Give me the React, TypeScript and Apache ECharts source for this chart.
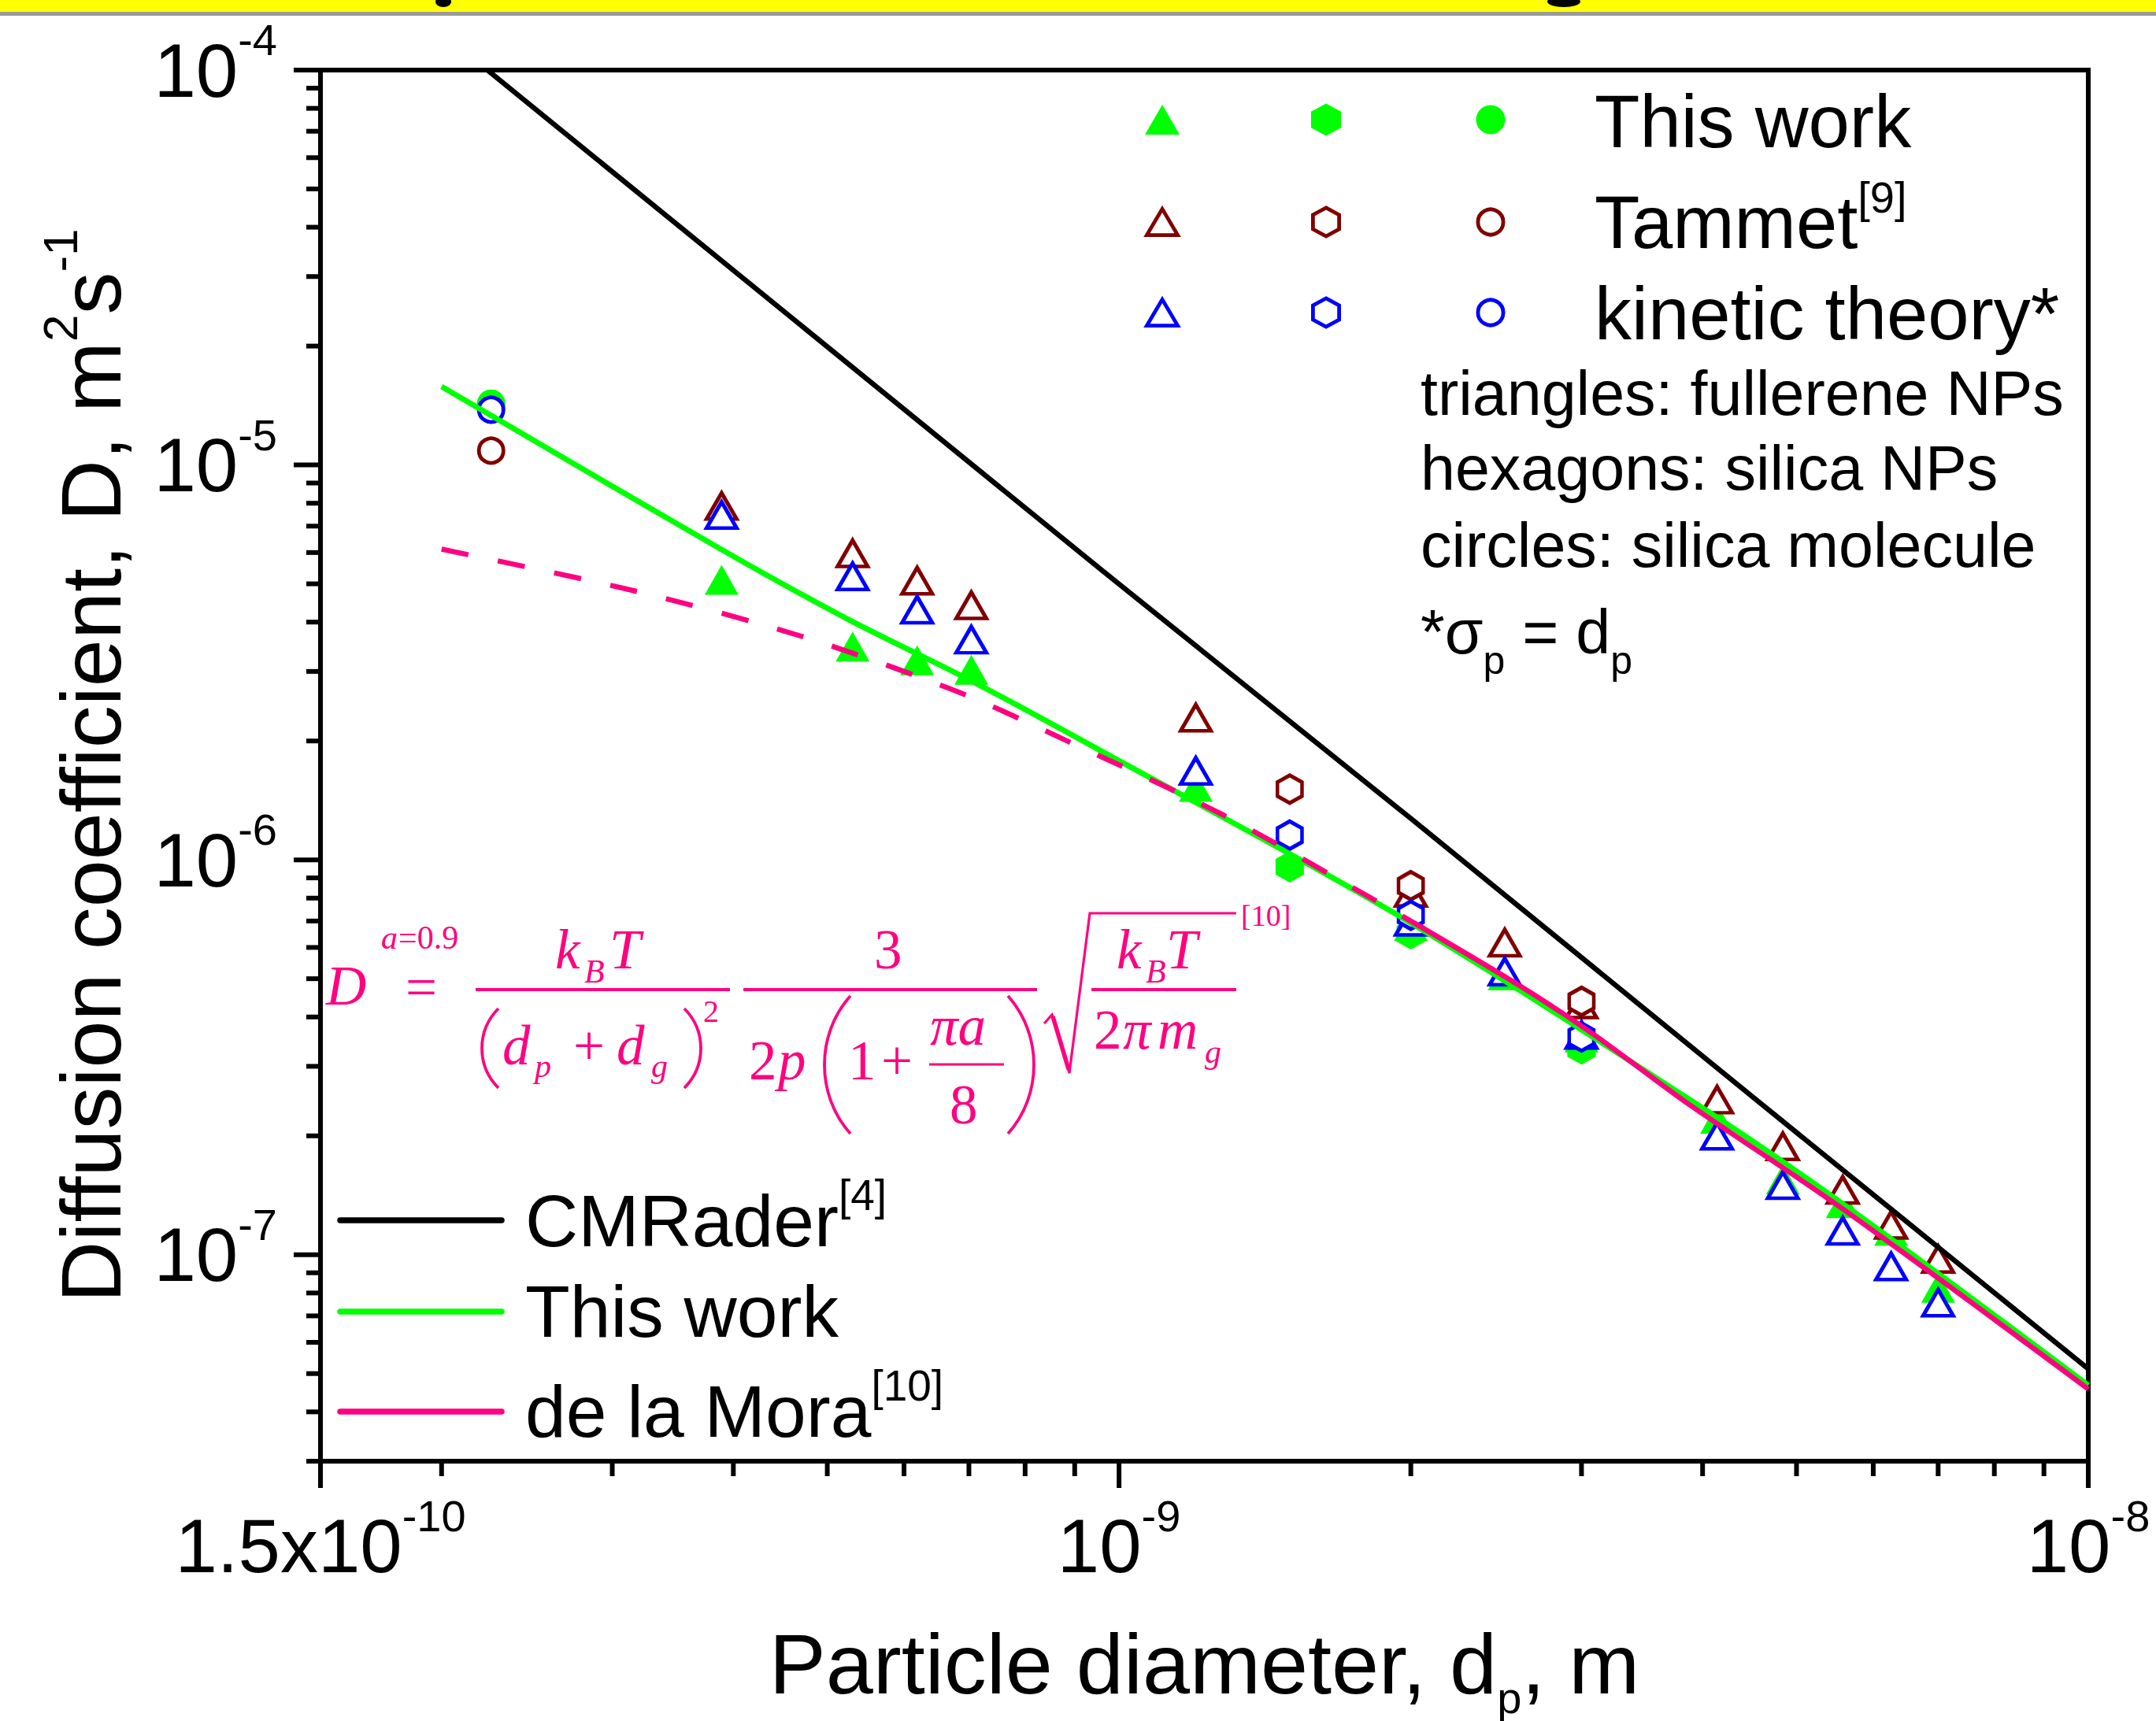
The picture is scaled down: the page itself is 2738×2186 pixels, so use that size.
import React, { useEffect, useRef } from 'react';
import * as echarts from 'echarts';

const W = 2738;
const H = 2186;

/* ---------------- data ---------------- */
// particle diameter d_p [m], diffusion coefficient D [m^2 s^-1]
const thisWorkFullerene: [number, number][] = [
  [3.89e-10, 5.12e-6], [5.31e-10, 3.47e-6], [6.19e-10, 3.2e-6], [7.04e-10, 3.03e-6],
  [1.2e-9, 1.53e-6], [2.0e-9, 6.8e-7], [2.5e-9, 5.1e-7], [3.0e-9, 3.55e-7],
  [4.14e-9, 2.21e-7], [4.84e-9, 1.55e-7], [5.58e-9, 1.35e-7], [6.26e-9, 1.15e-7], [7.0e-9, 8.25e-8],
];
const thisWorkSilicaNP: [number, number][] = [[1.5e-9, 9.6e-7], [2.0e-9, 6.5e-7], [3.0e-9, 3.32e-7]];
const thisWorkSilicaMolecule: [number, number][] = [[2.25e-10, 1.43e-5]];

const tammetFullerene: [number, number][] = [
  [3.89e-10, 7.87e-6], [5.31e-10, 5.97e-6], [6.19e-10, 5.09e-6], [7.04e-10, 4.41e-6],
  [1.2e-9, 2.29e-6], [2.0e-9, 8.25e-7], [2.5e-9, 6.17e-7], [3.0e-9, 4.3e-7],
  [4.14e-9, 2.47e-7], [4.84e-9, 1.88e-7], [5.58e-9, 1.46e-7], [6.26e-9, 1.19e-7], [7.0e-9, 9.75e-8],
];
const tammetSilicaNP: [number, number][] = [[1.5e-9, 1.51e-6], [2.0e-9, 8.6e-7], [3.0e-9, 4.38e-7]];
const tammetSilicaMolecule: [number, number][] = [[2.25e-10, 1.087e-5]];

const kineticFullerene: [number, number][] = [
  [3.89e-10, 7.47e-6], [5.31e-10, 5.22e-6], [6.19e-10, 4.3e-6], [7.04e-10, 3.61e-6],
  [1.2e-9, 1.68e-6], [2.0e-9, 6.97e-7], [2.5e-9, 5.21e-7], [3.0e-9, 3.6e-7],
  [4.14e-9, 2.0e-7], [4.84e-9, 1.5e-7], [5.58e-9, 1.15e-7], [6.26e-9, 9.34e-8], [7.0e-9, 7.56e-8],
];
const kineticSilicaNP: [number, number][] = [[1.5e-9, 1.155e-6], [2.0e-9, 7.24e-7], [3.0e-9, 3.56e-7]];
const kineticSilicaMolecule: [number, number][] = [[2.25e-10, 1.38e-5]];

const cmraderCurve: [number, number][] = [
  [2.23e-10, 1.0e-4], [9.61e-10, 5.4e-6], [2.01e-9, 1.26e-6], [4.56e-9, 2.45e-7], [1.0e-8, 5.14e-8],
];
const thisWorkCurve: [number, number][] = [
  [2.0e-10, 1.58e-5], [3.87e-10, 6.15e-6], [5.22e-10, 4.1e-6], [7.04e-10, 2.84e-6],
  [9.61e-10, 1.88e-6], [1.94e-9, 7.24e-7], [3.9e-9, 2.45e-7], [5.57e-9, 1.35e-7], [1.0e-8, 4.67e-8],
];
const delaMoraExtrapolated: [number, number][] = [
  [2.0e-10, 6.12e-6], [3.15e-10, 4.81e-6], [4.69e-10, 3.69e-6], [6.83e-10, 2.66e-6],
  [8.84e-10, 2.0e-6], [1.28e-9, 1.3e-6], [1.83e-9, 7.94e-7], [2.0e-9, 7.0e-7],
];
const delaMoraCurve: [number, number][] = [
  [2.0e-9, 7.0e-7], [2.59e-9, 4.8e-7], [3.09e-9, 3.61e-7], [3.83e-9, 2.45e-7],
  [5.57e-9, 1.31e-7], [1.0e-8, 4.57e-8],
];

/* ---------------- axes ---------------- */
const X_MIN = 1.5e-10;
const X_MAX = 1e-8;
const Y_MIN = 3e-8;
const Y_MAX = 1e-4;
// plotting units (avoid ECharts' 10-decimal rounding of tiny log-axis tick values)
const X_SCALE = 1e10;
const Y_SCALE = 1e8;

const xMajorTicks = [1.5e-10, 1e-9, 1e-8];
const xMinorTicks = [
  2e-10, 3e-10, 4e-10, 5e-10, 6e-10, 7e-10, 8e-10, 9e-10,
  2e-9, 3e-9, 4e-9, 5e-9, 6e-9, 7e-9, 8e-9, 9e-9,
];
const yMajorTicks = [1e-4, 1e-5, 1e-6, 1e-7];
const yMinorTicks = [
  9e-5, 8e-5, 7e-5, 6e-5, 5e-5, 4e-5, 3e-5, 2e-5,
  9e-6, 8e-6, 7e-6, 6e-6, 5e-6, 4e-6, 3e-6, 2e-6,
  9e-7, 8e-7, 7e-7, 6e-7, 5e-7, 4e-7, 3e-7, 2e-7,
  9e-8, 8e-8, 7e-8, 6e-8, 5e-8, 4e-8, 3e-8,
];

/* ---------------- styling ---------------- */
const SANS = "'Liberation Sans', Arial, Helvetica, sans-serif";
const SERIF = "'Liberation Serif', 'Times New Roman', Times, serif";
const C_SANS = 0.3465;
const C_SERIF = 0.3375;
const GREEN = '#00FF00';
const DARKRED = '#800000';
const BLUE = '#0000FF';
const PINK = '#FF0080';
const BLACK = '#000000';
const HEX_PATH = 'path://M0,-10L8.66,-5L8.66,5L0,10L-8.66,5L-8.66,-5Z';
const BW = 4.8;
const AXW = 6;

let measureCtx: CanvasRenderingContext2D | null = null;
function measure(text: string, font: string): number {
  if (!measureCtx) measureCtx = document.createElement('canvas').getContext('2d');
  if (!measureCtx) return text.length * 20;
  measureCtx.font = font;
  return measureCtx.measureText(text).width;
}

function txt(t: string, x: number, baseline: number, size: number, fill: string, family: string, italic?: boolean): any {
  const c = family === SERIF ? C_SERIF : C_SANS;
  const font = `${italic ? 'italic ' : ''}${size}px ${family}`;
  return {
    type: 'text', silent: true, z: 6, x, y: baseline - c * size,
    style: {
      text: t, font, fill,
      align: 'left', verticalAlign: 'middle', textAlign: 'left', textVerticalAlign: 'middle',
    },
  };
}

type Piece = { t: string; size: number; dy?: number; italic?: boolean };
function run(x0: number, baseline: number, pieces: Piece[], fill: string, family: string): any[] {
  const out: any[] = [];
  let x = x0;
  for (const p of pieces) {
    const font = `${p.italic ? 'italic ' : ''}${p.size}px ${family}`;
    out.push(txt(p.t, x, baseline + (p.dy || 0), p.size, fill, family, p.italic));
    x += measure(p.t, font);
  }
  return out;
}

function fmtTick(real: number, allowMantissa: boolean): string {
  const lg = Math.log10(real);
  const n = Math.round(lg);
  if (Math.abs(lg - n) < 1e-6) return `{b|10}{s|${n}}`;
  if (!allowMantissa) return '';
  const e = Math.floor(lg + 1e-9);
  const m = Math.round((real / Math.pow(10, e)) * 100) / 100;
  return `{b|${m}x10}{s|${e}}`;
}

const scaleData = (d: [number, number][]) => d.map(([x, y]) => [x * X_SCALE, y * Y_SCALE]);

function scatterSeries(name: string, data: [number, number][], symbol: string, outer: [number, number], color: string, filled: boolean): any {
  return {
    type: 'scatter', name, data: scaleData(data), symbol,
    symbolSize: filled ? outer : [outer[0] - BW, outer[1] - BW],
    itemStyle: filled
      ? { color, borderWidth: 0, opacity: 1 }
      : { color: '#ffffff', borderColor: color, borderWidth: BW, opacity: 1 },
    silent: true, z: 2, emphasis: { disabled: true },
  };
}

function lineSeries(name: string, data: [number, number][], color: string, width: number, type: any, smooth: number | boolean): any {
  return {
    type: 'line', name, data: scaleData(data), showSymbol: false, symbol: 'none',
    lineStyle: { color, width, type, cap: 'butt' }, smooth, silent: true, z: 3,
    emphasis: { disabled: true },
  };
}

function buildOption(): any {
  const labelRich = {
    b: { fontFamily: SANS, fontSize: 96, lineHeight: 133, color: '#000' },
    s: { fontFamily: SANS, fontSize: 56, lineHeight: 56, color: '#000', verticalAlign: 'top' },
  };
  const TRI: [number, number] = [43, 38];
  const HEX: [number, number] = [36, 40];
  const CIR: [number, number] = [36, 36];
  return {
    animation: false,
    backgroundColor: '#ffffff',
    textStyle: { fontFamily: SANS },
    grid: {
      left: 407, right: 86, top: 89, bottom: 330,
      show: true, borderColor: '#000', borderWidth: AXW, backgroundColor: 'transparent',
      containLabel: false, outerBoundsMode: 'none',
    },
    xAxis: {
      type: 'log', logBase: 10, min: X_MIN * X_SCALE, max: X_MAX * X_SCALE,
      axisLine: { show: true, onZero: false, lineStyle: { color: '#000', width: AXW } },
      axisTick: { show: false }, minorTick: { show: false },
      splitLine: { show: false }, minorSplitLine: { show: false },
      axisLabel: {
        show: true, margin: 41, color: '#000', rich: labelRich,
        showMinLabel: true, showMaxLabel: true, hideOverlap: false,
        formatter: (v: number) => fmtTick(v / X_SCALE, true),
      },
      name: '{n|Particle diameter, d}{u|p}{n|, m}',
      nameLocation: 'middle', nameGap: 187, nameMoveOverlap: false,
      nameTextStyle: {
        color: '#000',
        rich: {
          n: { fontFamily: SANS, fontSize: 108, lineHeight: 141, color: '#000' },
          u: { fontFamily: SANS, fontSize: 56, lineHeight: 65, color: '#000', verticalAlign: 'bottom' },
        },
      },
    },
    yAxis: {
      type: 'log', logBase: 10, min: Y_MIN * Y_SCALE, max: Y_MAX * Y_SCALE,
      axisLine: { show: true, onZero: false, lineStyle: { color: '#000', width: AXW } },
      axisTick: { show: false }, minorTick: { show: false },
      splitLine: { show: false }, minorSplitLine: { show: false },
      axisLabel: {
        show: true, margin: 55, color: '#000', rich: labelRich,
        showMinLabel: true, showMaxLabel: true, hideOverlap: false,
        formatter: (v: number) => fmtTick(v / Y_SCALE, false),
      },
      name: '{n|Diffusion coefficient, D, m}{s|2}{n|s}{s|-1}',
      nameLocation: 'middle', nameGap: 221, nameRotate: 90, nameMoveOverlap: false,
      nameTextStyle: {
        color: '#000',
        rich: {
          n: { fontFamily: SANS, fontSize: 108, lineHeight: 141, color: '#000' },
          s: { fontFamily: SANS, fontSize: 62, lineHeight: 62, color: '#000', verticalAlign: 'top' },
        },
      },
    },
    series: [
      scatterSeries('This work – fullerene NPs', thisWorkFullerene, 'triangle', TRI, GREEN, true),
      scatterSeries('This work – silica NPs', thisWorkSilicaNP, HEX_PATH, HEX, GREEN, true),
      scatterSeries('This work – silica molecule', thisWorkSilicaMolecule, 'circle', CIR, GREEN, true),
      scatterSeries('Tammet – fullerene NPs', tammetFullerene, 'triangle', TRI, DARKRED, false),
      scatterSeries('Tammet – silica NPs', tammetSilicaNP, HEX_PATH, HEX, DARKRED, false),
      scatterSeries('Tammet – silica molecule', tammetSilicaMolecule, 'circle', CIR, DARKRED, false),
      scatterSeries('kinetic theory – fullerene NPs', kineticFullerene, 'triangle', TRI, BLUE, false),
      scatterSeries('kinetic theory – silica NPs', kineticSilicaNP, HEX_PATH, HEX, BLUE, false),
      scatterSeries('kinetic theory – silica molecule', kineticSilicaMolecule, 'circle', CIR, BLUE, false),
      lineSeries('CMRader', cmraderCurve, BLACK, 6.5, 'solid', false),
      lineSeries('This work (fit)', thisWorkCurve, GREEN, 7, 'solid', 0.3),
      lineSeries('de la Mora (extrapolated)', delaMoraExtrapolated, PINK, 6.5, [35, 38], 0.3),
      lineSeries('de la Mora', delaMoraCurve, PINK, 6.5, 'solid', 0.3),
    ],
  };
}

function triEl(cx: number, cy: number, w: number, h: number, color: string, filled: boolean): any {
  const iw = filled ? w : w - BW;
  const ih = filled ? h : h - BW;
  return {
    type: 'polygon', silent: true, z: 6,
    shape: { points: [[cx, cy - ih / 2], [cx + iw / 2, cy + ih / 2], [cx - iw / 2, cy + ih / 2]] },
    style: filled ? { fill: color } : { fill: '#fff', stroke: color, lineWidth: BW },
  };
}
function hexEl(cx: number, cy: number, w: number, h: number, color: string, filled: boolean): any {
  const iw = (filled ? w : w - BW) / 2;
  const ih = (filled ? h : h - BW) / 2;
  return {
    type: 'polygon', silent: true, z: 6,
    shape: {
      points: [
        [cx, cy - ih], [cx + iw, cy - ih / 2], [cx + iw, cy + ih / 2],
        [cx, cy + ih], [cx - iw, cy + ih / 2], [cx - iw, cy - ih / 2],
      ],
    },
    style: filled ? { fill: color } : { fill: '#fff', stroke: color, lineWidth: BW },
  };
}
function cirEl(cx: number, cy: number, d: number, color: string, filled: boolean): any {
  return {
    type: 'circle', silent: true, z: 6,
    shape: { cx, cy, r: (filled ? d : d - BW) / 2 },
    style: filled ? { fill: color } : { fill: '#fff', stroke: color, lineWidth: BW },
  };
}
function paren(xl: number, xr: number, yt: number, yb: number, open: boolean, color: string): any {
  const h = yb - yt;
  const w = xr - xl;
  const edge = open ? xr : xl;
  const belly = open ? xl - w / 3 : xr + w / 3;
  return {
    type: 'bezierCurve', silent: true, z: 6,
    shape: { x1: edge, y1: yt, cpx1: belly, cpy1: yt + h * 0.28, cpx2: belly, cpy2: yb - h * 0.28, x2: edge, y2: yb },
    style: { stroke: color, lineWidth: 3.8, fill: 'none' },
  };
}
function hline(x1: number, x2: number, y: number, color: string, lw: number): any {
  return { type: 'line', silent: true, z: 6, shape: { x1, y1: y, x2, y2: y }, style: { stroke: color, lineWidth: lw } };
}

function buildGraphics(chart: any): any[] {
  const g: any[] = [];
  // slide banner remnant at the very top
  g.push({ type: 'rect', silent: true, shape: { x: 0, y: 0, width: W, height: 15 }, style: { fill: '#FFFF00' } });
  g.push({ type: 'rect', silent: true, shape: { x: 0, y: 15, width: W, height: 5 }, style: { fill: '#9A9A9A' } });
  g.push({ type: 'ellipse', silent: true, shape: { cx: 563, cy: 2, rx: 10, ry: 7 }, style: { fill: '#000' } });
  g.push({ type: 'ellipse', silent: true, shape: { cx: 1986, cy: 2, rx: 21, ry: 7 }, style: { fill: '#000' } });

  // log ticks (outward), positioned through the axes' own scales
  const px = (v: number) => chart.convertToPixel({ xAxisIndex: 0 }, v * X_SCALE) as number;
  const py = (v: number) => chart.convertToPixel({ yAxisIndex: 0 }, v * Y_SCALE) as number;
  const x0 = px(X_MIN);
  const yb = py(Y_MIN);
  const tick = (x1: number, y1: number, x2: number, y2: number) => ({
    type: 'line', silent: true, z: 5, shape: { x1, y1, x2, y2 }, style: { stroke: '#000', lineWidth: AXW },
  });
  xMajorTicks.forEach((v) => g.push(tick(px(v), yb, px(v), yb + 34)));
  xMinorTicks.forEach((v) => g.push(tick(px(v), yb, px(v), yb + 19)));
  yMajorTicks.forEach((v) => g.push(tick(x0, py(v), x0 - 34, py(v))));
  yMinorTicks.forEach((v) => g.push(tick(x0, py(v), x0 - 18, py(v))));

  // symbol legend (top right)
  const rows = [
    { y: 152, base: 187, color: GREEN, filled: true, text: [{ t: 'This work', size: 94 }] as Piece[] },
    { y: 282, base: 315, color: DARKRED, filled: false, text: [{ t: 'Tammet', size: 94 }, { t: '[9]', size: 56, dy: -45 }] as Piece[] },
    { y: 397, base: 431, color: BLUE, filled: false, text: [{ t: 'kinetic theory*', size: 94 }] as Piece[] },
  ];
  rows.forEach((r) => {
    g.push(triEl(1476, r.y, 44, 38, r.color, r.filled));
    g.push(hexEl(1684, r.y, 38, 41, r.color, r.filled));
    g.push(cirEl(1893, r.y, 37, r.color, r.filled));
    g.push(...run(2025, r.base, r.text, '#000', SANS));
  });
  g.push(...run(1804, 527, [{ t: 'triangles: fullerene NPs', size: 79 }], '#000', SANS));
  g.push(...run(1804, 622, [{ t: 'hexagons: silica NPs', size: 79 }], '#000', SANS));
  g.push(...run(1804, 720, [{ t: 'circles: silica molecule', size: 79 }], '#000', SANS));
  g.push(...run(1804, 830, [
    { t: '*', size: 79 }, { t: 'σ', size: 79 }, { t: 'p', size: 50, dy: 26 },
    { t: ' = d', size: 79 }, { t: 'p', size: 50, dy: 26 },
  ], '#000', SANS));

  // line legend (lower left)
  const lineRows = [
    { y: 1550, base: 1583, color: BLACK, text: [{ t: 'CMRader', size: 93 }, { t: '[4]', size: 55, dy: -46 }] as Piece[] },
    { y: 1666, base: 1698, color: GREEN, text: [{ t: 'This work', size: 93 }] as Piece[] },
    { y: 1793, base: 1825, color: PINK, text: [{ t: 'de la Mora', size: 93 }, { t: '[10]', size: 55, dy: -46 }] as Piece[] },
  ];
  lineRows.forEach((r) => {
    g.push({ type: 'line', silent: true, z: 6, shape: { x1: 432, y1: r.y, x2: 637, y2: r.y }, style: { stroke: r.color, lineWidth: 7.5, lineCap: 'round' } });
    g.push(...run(667, r.base, r.text, '#000', SANS));
  });

  // de la Mora formula (pink, Times-like)
  const F: { t: string; x: number; b: number; s: number; i?: boolean }[] = [
    { t: 'D', x: 414, b: 1276, s: 71, i: true },
    { t: 'a', x: 484, b: 1205, s: 42, i: true },
    { t: '=0.9', x: 506, b: 1205, s: 42 },
    { t: '=', x: 515, b: 1278, s: 71 },
    { t: 'k', x: 705, b: 1230, s: 71, i: true },
    { t: 'B', x: 742, b: 1248, s: 42, i: true },
    { t: 'T', x: 774, b: 1230, s: 71, i: true },
    { t: 'd', x: 638, b: 1352, s: 71, i: true },
    { t: 'p', x: 679, b: 1368, s: 42, i: true },
    { t: '+', x: 728, b: 1352, s: 71 },
    { t: 'd', x: 783, b: 1352, s: 71, i: true },
    { t: 'g', x: 827, b: 1368, s: 42, i: true },
    { t: '2', x: 893, b: 1298, s: 40 },
    { t: '3', x: 1110, b: 1230, s: 71 },
    { t: '2', x: 951, b: 1371, s: 71 },
    { t: 'p', x: 988, b: 1371, s: 71, i: true },
    { t: '1', x: 1077, b: 1371, s: 71 },
    { t: '+', x: 1119, b: 1371, s: 71 },
    { t: 'πa', x: 1181, b: 1327, s: 71, i: true },
    { t: '8', x: 1206, b: 1427, s: 71 },
    { t: 'k', x: 1418, b: 1230, s: 71, i: true },
    { t: 'B', x: 1455, b: 1248, s: 42, i: true },
    { t: 'T', x: 1481, b: 1230, s: 71, i: true },
    { t: '2', x: 1389, b: 1332, s: 71 },
    { t: 'π', x: 1426, b: 1332, s: 71, i: true },
    { t: 'm', x: 1470, b: 1332, s: 71, i: true },
    { t: 'g', x: 1530, b: 1350, s: 42, i: true },
    { t: '[10]', x: 1576, b: 1176, s: 38 },
  ];
  F.forEach((p) => g.push(txt(p.t, p.x, p.b, p.s, PINK, SERIF, p.i)));
  g.push(hline(604, 927, 1257, PINK, 3.8));
  g.push(hline(944, 1317, 1257, PINK, 3.8));
  g.push(hline(1386, 1570, 1257, PINK, 3.8));
  g.push(hline(1180, 1275, 1352, PINK, 3.2));
  g.push(paren(612, 633, 1281, 1382, true, PINK));
  g.push(paren(869, 890, 1281, 1382, false, PINK));
  g.push(paren(1047, 1080, 1265, 1440, true, PINK));
  g.push(paren(1280, 1313, 1265, 1440, false, PINK));
  g.push({
    type: 'polyline', silent: true, z: 6,
    shape: { points: [[1326, 1300], [1336, 1289], [1358, 1363], [1384, 1160], [1570, 1160]] },
    style: { stroke: PINK, lineWidth: 3.2, fill: 'none', lineJoin: 'miter' },
  });
  g.push({ type: 'line', silent: true, z: 6, shape: { x1: 1337, y1: 1291, x2: 1357, y2: 1358 }, style: { stroke: PINK, lineWidth: 5.5 } });
  return g;
}

export default function App() {
  const ref = useRef<HTMLDivElement>(null);
  useEffect(() => {
    document.body.style.margin = '0';
    document.body.style.overflow = 'hidden';
    const chart = echarts.init(ref.current as HTMLDivElement, null, { renderer: 'svg', width: W, height: H });
    chart.setOption(buildOption());
    chart.setOption({ graphic: { elements: buildGraphics(chart) } });
    return () => {
      chart.dispose();
    };
  }, []);
  return <div ref={ref} style={{ width: W, height: H, background: '#ffffff' }} />;
}
